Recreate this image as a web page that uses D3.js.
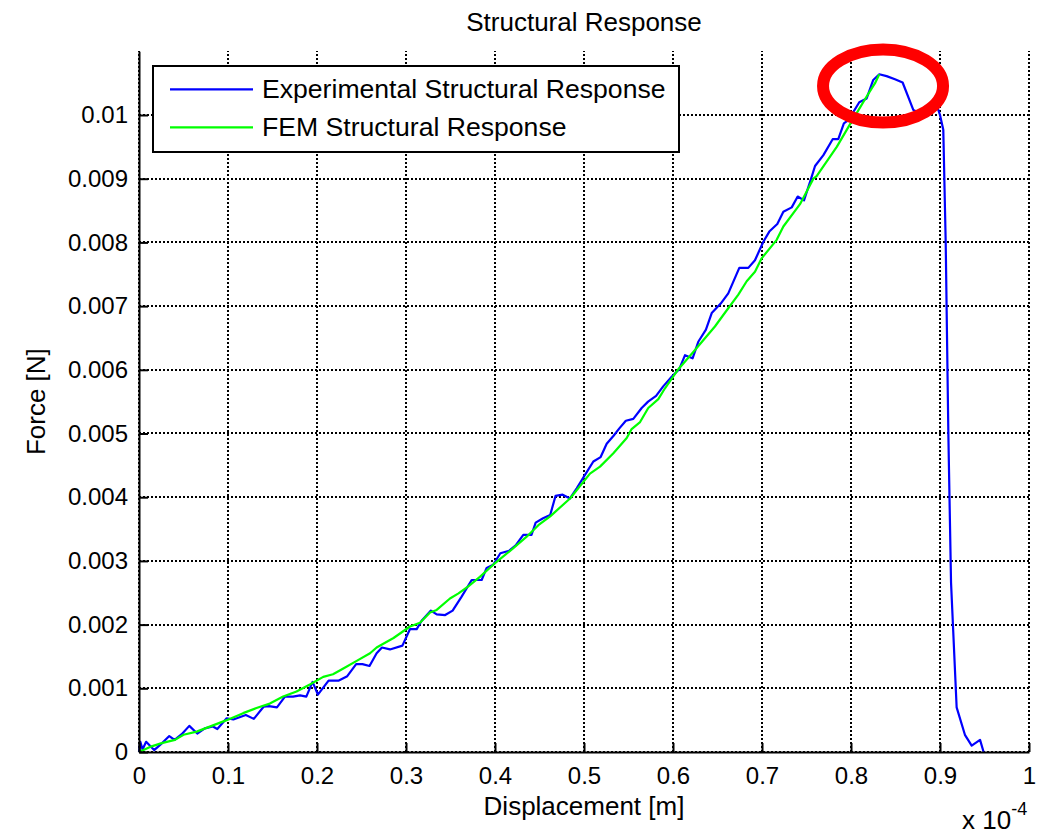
<!DOCTYPE html>
<html>
<head>
<meta charset="utf-8">
<script src="https://cdn.jsdelivr.net/npm/d3@7"></script>
<style>
  body { margin: 0; background: #fff; }
  svg { display: block; font-family: "Liberation Sans", Arial, sans-serif; }
</style>
</head>
<body>
<script>
// displacement in units of 1e-4 m, force in N
const expX = [0, 0.0015, 0.004, 0.008, 0.017, 0.026, 0.034, 0.040, 0.048, 0.0565, 0.0655, 0.074, 0.083, 0.088, 0.0985,
  0.106, 0.12, 0.129, 0.14, 0.146, 0.155, 0.164, 0.173, 0.181, 0.188, 0.195, 0.201, 0.213, 0.224, 0.234,
  0.244, 0.251, 0.259, 0.267, 0.273, 0.282, 0.296, 0.3045, 0.312, 0.3176, 0.328, 0.3345, 0.344, 0.3524, 0.3625,
  0.3738, 0.385, 0.3906, 0.398, 0.406, 0.416, 0.4236, 0.4318, 0.441, 0.4457, 0.454, 0.462, 0.468, 0.476, 0.4843,
  0.4918, 0.502, 0.5105, 0.5187, 0.5255, 0.533, 0.5397, 0.547, 0.5554, 0.5648, 0.572, 0.581, 0.589, 0.5985, 0.607,
  0.6135, 0.622, 0.6284, 0.637, 0.6435, 0.6536, 0.6621, 0.6745, 0.6846, 0.6921, 0.7015, 0.7082, 0.7172, 0.724, 0.7334,
  0.7401, 0.7472, 0.754, 0.7596, 0.769, 0.7794, 0.7857, 0.792, 0.797, 0.8093, 0.8176, 0.825, 0.8318, 0.84, 0.8494,
  0.858, 0.87, 0.885, 0.8962, 0.9, 0.9037, 0.9064, 0.9094, 0.9124, 0.9187, 0.928, 0.9356, 0.945, 0.949];
const expF = [0, 0.00016, 0.00004, 0.00016, 0.00003, 0.00014, 0.00025, 0.00019, 0.00028, 0.00041, 0.00029, 0.00037, 0.0004, 0.00036, 0.00053,
  0.00051, 0.00058, 0.00052, 0.00071, 0.00072, 0.0007, 0.00087, 0.00087, 0.00089, 0.00087, 0.0011, 0.0009, 0.00112, 0.00112, 0.00119,
  0.00138, 0.00138, 0.00135, 0.00155, 0.00164, 0.00161, 0.00167, 0.00193, 0.00193, 0.00206, 0.00222, 0.00216, 0.00215, 0.00222, 0.00244,
  0.0027, 0.0027, 0.00289, 0.00294, 0.00312, 0.00316, 0.00325, 0.00341, 0.00341, 0.0036, 0.00367, 0.00372, 0.00402, 0.00404, 0.00398,
  0.00414, 0.00437, 0.00456, 0.00463, 0.00484, 0.00496, 0.00508, 0.0052, 0.00523, 0.0054, 0.0055, 0.00559, 0.00574, 0.00589, 0.00601,
  0.00623, 0.00618, 0.00644, 0.00663, 0.00689, 0.00704, 0.0072, 0.0076, 0.0076, 0.00772, 0.00801, 0.00817, 0.00829, 0.00848, 0.00855,
  0.00872, 0.00866, 0.00895, 0.0092, 0.00937, 0.00962, 0.00962, 0.00987, 0.00992, 0.0102, 0.01026, 0.01055, 0.01064, 0.01061, 0.01056,
  0.01051, 0.01008, 0.00998, 0.01016, 0.01, 0.00977, 0.00801, 0.00498, 0.00266, 0.0007, 0.00027, 0.0001, 0.00019, 0];

const femX = [0, 0.0124, 0.0255, 0.0404, 0.05, 0.0648, 0.0817, 0.0985, 0.117, 0.132, 0.147, 0.162, 0.177, 0.192, 0.207,
  0.218, 0.2296, 0.2446, 0.2596, 0.267, 0.286, 0.3045, 0.3157, 0.327, 0.3345, 0.3494, 0.359, 0.37, 0.383, 0.398,
  0.4206, 0.4356, 0.4487, 0.462, 0.4843, 0.5067, 0.518, 0.533, 0.548, 0.5535, 0.563, 0.5722, 0.5835, 0.591, 0.606,
  0.6228, 0.6471, 0.6565, 0.6734, 0.6828, 0.6921, 0.6996, 0.7165, 0.724, 0.7427, 0.7577, 0.7614, 0.784, 0.8008, 0.8176,
  0.827, 0.8318];
const femF = [0, 0.00008, 0.00014, 0.00019, 0.00027, 0.00032, 0.00041, 0.0005, 0.00061, 0.00069, 0.00076, 0.00087, 0.00095, 0.00106, 0.00118,
  0.00122, 0.00131, 0.00143, 0.00155, 0.00164, 0.00179, 0.00197, 0.00203, 0.00219, 0.00223, 0.00241, 0.00249, 0.0026, 0.00275, 0.00294,
  0.0032, 0.00338, 0.00356, 0.0037, 0.00398, 0.00437, 0.00448, 0.00469, 0.00493, 0.00507, 0.00518, 0.0054, 0.00554, 0.00571, 0.00601,
  0.00628, 0.00668, 0.00686, 0.00718, 0.00739, 0.00754, 0.00775, 0.00804, 0.00825, 0.0086, 0.009, 0.00904, 0.0095, 0.0099, 0.01029,
  0.0105, 0.01064];

const xTicks = [0, 0.1, 0.2, 0.3, 0.4, 0.5, 0.6, 0.7, 0.8, 0.9, 1];
const yTicks = [0, 0.001, 0.002, 0.003, 0.004, 0.005, 0.006, 0.007, 0.008, 0.009, 0.01];
const legendLabels = ['Experimental Structural Response', 'FEM Structural Response'];
const lineColors = ['#0000ff', '#00ff00'];
const peakMark = [0.836, 0.010455];

const W = 1044, H = 834;
const plotLeft = 139, plotRight = 1029, plotTop = 51.3, plotBottom = 752;

const svg = d3.select('body').append('svg')
    .attr('width', W)
    .attr('height', H);

const x = d3.scaleLinear().domain([0, 1]).range([plotLeft, plotRight]);
const y = d3.scaleLinear().domain([0, 0.011]).range([plotBottom, plotTop]);

// grid: black dotted lines
const grid = svg.append('g')
    .attr('stroke', '#000')
    .attr('stroke-width', 2)
    .attr('stroke-dasharray', '2,2')
    .attr('shape-rendering', 'crispEdges');
grid.selectAll('.vg').data(xTicks).enter().append('line')
    .attr('x1', d => Math.round(x(d))).attr('x2', d => Math.round(x(d)))
    .attr('y1', plotBottom).attr('y2', plotTop);
grid.selectAll('.hg').data(yTicks).enter().append('line')
    .attr('x1', plotLeft).attr('x2', plotRight)
    .attr('y1', d => Math.round(y(d))).attr('y2', d => Math.round(y(d)));

// curves
const line = d3.line().x(d => x(d[0])).y(d => y(d[1]));
const series = [d3.zip(expX, expF), d3.zip(femX, femF)];
svg.selectAll('.curve').data(series).enter().append('path')
    .attr('class', 'curve')
    .attr('d', line)
    .attr('fill', 'none')
    .attr('stroke', (d, i) => lineColors[i])
    .attr('stroke-width', 2.2)
    .attr('stroke-linejoin', 'round');

// axes, ticks pointing inward
const xAxis = svg.append('g')
    .attr('transform', `translate(0,${plotBottom})`)
    .call(d3.axisBottom(x).tickValues(xTicks).tickFormat(d3.format('')).tickSize(-9).tickSizeOuter(0).tickPadding(15));
const yAxis = svg.append('g')
    .attr('transform', `translate(${plotLeft},0)`)
    .call(d3.axisLeft(y).tickValues(yTicks).tickFormat(d3.format('')).tickSize(-9).tickSizeOuter(0).tickPadding(11));
[xAxis, yAxis].forEach(g => {
  g.attr('font-size', 24).attr('font-family', '"Liberation Sans", Arial, sans-serif');
  g.selectAll('path, line').attr('stroke', '#000').attr('stroke-width', 2);
  g.selectAll('text').attr('fill', '#000');
});

// labels
svg.append('text')
    .attr('x', (plotLeft + plotRight) / 2).attr('y', 31)
    .attr('text-anchor', 'middle').attr('font-size', 26)
    .text('Structural Response');
svg.append('text')
    .attr('x', (plotLeft + plotRight) / 2).attr('y', 815)
    .attr('text-anchor', 'middle').attr('font-size', 26)
    .text('Displacement [m]');
svg.append('text')
    .attr('transform', `translate(45,${(plotTop + plotBottom) / 2}) rotate(-90)`)
    .attr('text-anchor', 'middle').attr('font-size', 26)
    .text('Force [N]');
const expo = svg.append('text')
    .attr('x', 962).attr('y', 829).attr('font-size', 26);
expo.append('tspan').text('x 10');
expo.append('tspan').attr('dy', -14).attr('font-size', 18).text('-4');

// legend
const legend = svg.append('g');
legend.append('rect')
    .attr('x', 153).attr('y', 66).attr('width', 526).attr('height', 86)
    .attr('fill', '#fff').attr('stroke', '#000').attr('stroke-width', 2);
legendLabels.forEach((lab, i) => {
  const ly = 89.3 + i * 38;
  legend.append('line')
      .attr('x1', 170).attr('x2', 253).attr('y1', ly).attr('y2', ly)
      .attr('stroke', lineColors[i]).attr('stroke-width', 2.2);
  legend.append('text')
      .attr('x', 262).attr('y', ly + 8.7).attr('font-size', 26.6)
      .text(lab);
});

// red ellipse round the peak
svg.append('ellipse')
    .attr('cx', x(peakMark[0])).attr('cy', y(peakMark[1]))
    .attr('rx', 60).attr('ry', 36.5)
    .attr('fill', 'none').attr('stroke', '#ff0000').attr('stroke-width', 12);
</script>
</body>
</html>
